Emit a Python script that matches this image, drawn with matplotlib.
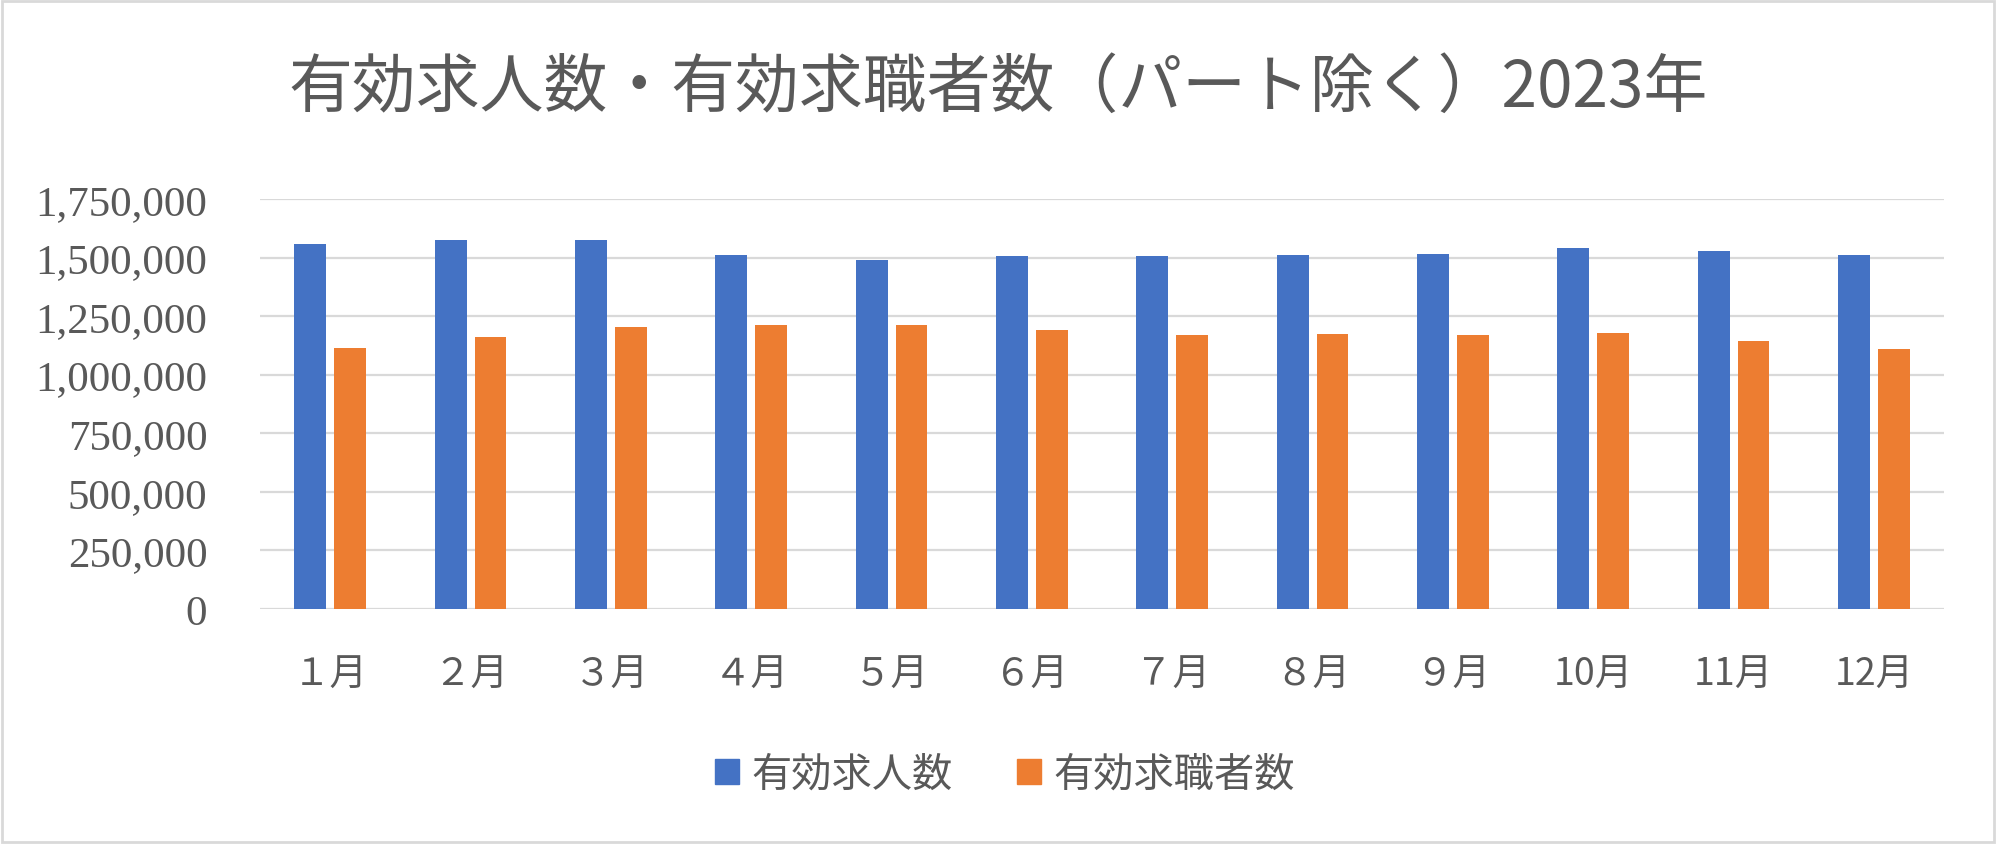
import numpy as np
import matplotlib.pyplot as plt
from matplotlib.patches import Patch, Rectangle
from matplotlib.ticker import FuncFormatter

plt.rcParams['font.family'] = ['Noto Sans CJK JP', 'DejaVu Sans']

# データ
months = ['１月', '２月', '３月', '４月', '５月', '６月', '７月', '８月', '９月', '10月', '11月', '12月']
kyujin = [1556000, 1577000, 1577000, 1513000, 1489000, 1505000,
          1505000, 1513000, 1517000, 1543000, 1526000, 1509000]
kyushoku = [1112000, 1159000, 1203000, 1212000, 1212000, 1193000,
            1169000, 1172000, 1169000, 1176000, 1146000, 1108000]
series_names = ['有効求人数', '有効求職者数']
title = '有効求人数・有効求職者数（パート除く）2023年'

blue = '#4472C4'
orange = '#ED7D31'
grey_txt = '#595959'
grid_c = '#D9D9D9'

fig = plt.figure(figsize=(19.96, 8.45), dpi=100)
ax = fig.add_axes([0.1303, 0.2781, 0.8437, 0.4852])

x = np.arange(len(months))
w = 0.227
off = 0.142
ax.bar(x - off, kyujin, w, color=blue, zorder=3)
ax.bar(x + off, kyushoku, w, color=orange, zorder=3)

ax.set_xlim(-0.5, len(months) - 0.5)
ax.set_ylim(0, 1750000)
ax.set_yticks(np.arange(0, 1750001, 250000))
ax.yaxis.set_major_formatter(FuncFormatter(lambda v, p: f'{int(v):,}'))
ax.grid(axis='y', color=grid_c, linewidth=1.6, zorder=0)
for s in ax.spines.values():
    s.set_visible(False)
ax.tick_params(length=0)
ax.tick_params(axis='y', pad=38, colors=grey_txt, labelsize=31)
for lab in ax.get_yticklabels():
    lab.set_family(['Liberation Serif', 'Noto Sans CJK JP'])
ax.set_xticks(x)
ax.set_xticklabels(months, fontsize=27, color=grey_txt)
ax.tick_params(axis='x', pad=33)

fig.text(0.5, 1 - 89 / 845, title, ha='center', va='center', fontsize=46, color=grey_txt)

handles = [Patch(color=blue), Patch(color=orange)]
fig.legend(handles, series_names, loc='center', bbox_to_anchor=(1005 / 1996, 1 - 775 / 845),
           ncol=2, frameon=False, fontsize=29, labelcolor=grey_txt,
           handlelength=0.6, handleheight=0.6, handletextpad=0.3, columnspacing=1.6)

fig.patches.append(Rectangle((0.001, 0.002), 0.998, 0.996, transform=fig.transFigure,
                             fill=False, edgecolor=grid_c, linewidth=2))

fig.savefig('out.png', dpi=100)
